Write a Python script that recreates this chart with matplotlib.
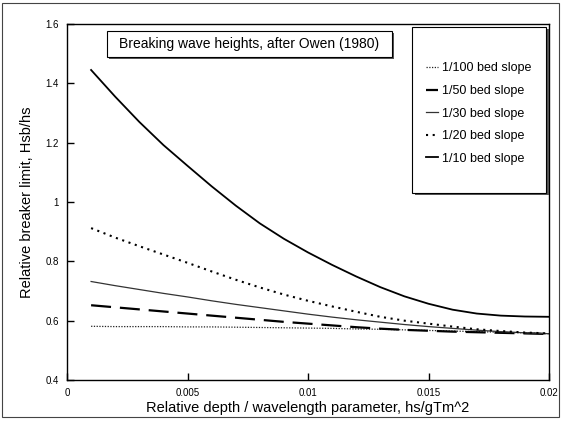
import matplotlib
matplotlib.use("Agg")
import matplotlib.pyplot as plt
from matplotlib.patches import Rectangle

# ---- data ----
x = [0.001, 0.002, 0.003, 0.004, 0.005, 0.006, 0.007, 0.008, 0.009, 0.010,
     0.011, 0.012, 0.013, 0.014, 0.015, 0.016, 0.017, 0.018, 0.019, 0.020]
slope_100 = [0.581, 0.580, 0.580, 0.580, 0.579, 0.579, 0.578, 0.577, 0.576, 0.575,
             0.574, 0.572, 0.571, 0.569, 0.567, 0.565, 0.563, 0.561, 0.559, 0.556]
slope_50 = [0.652, 0.645, 0.638, 0.631, 0.624, 0.617, 0.610, 0.603, 0.596, 0.590,
            0.584, 0.578, 0.573, 0.569, 0.566, 0.563, 0.561, 0.559, 0.557, 0.555]
slope_30 = [0.732, 0.718, 0.705, 0.692, 0.680, 0.667, 0.655, 0.644, 0.633, 0.622,
            0.612, 0.603, 0.595, 0.587, 0.580, 0.574, 0.568, 0.563, 0.559, 0.556]
slope_20 = [0.912, 0.880, 0.851, 0.823, 0.795, 0.766, 0.738, 0.712, 0.688, 0.667,
            0.648, 0.630, 0.613, 0.600, 0.590, 0.580, 0.571, 0.565, 0.560, 0.557]
slope_10 = [1.445, 1.355, 1.270, 1.192, 1.122, 1.053, 0.988, 0.928, 0.876, 0.830,
            0.788, 0.749, 0.713, 0.682, 0.657, 0.637, 0.624, 0.617, 0.614, 0.613]
labels = ["1/100 bed slope", "1/50 bed slope", "1/30 bed slope",
          "1/20 bed slope", "1/10 bed slope"]
xticks = [0, 0.005, 0.01, 0.015, 0.02]
xticklabels = ["0", "0.005", "0.01", "0.015", "0.02"]
yticks = [0.4, 0.6, 0.8, 1.0, 1.2, 1.4, 1.6]
yticklabels = ["0.4", "0.6", "0.8", "1", "1.2", "1.4", "1.6"]
title = "Breaking wave heights, after Owen (1980)"
xlabel = "Relative depth / wavelength parameter, hs/gTm^2"
ylabel = "Relative breaker limit, Hsb/hs"

plt.rcParams['font.family'] = ['Liberation Sans', 'DejaVu Sans']

W, H = 562, 421
fig = plt.figure(figsize=(W / 100, H / 100), dpi=100)
ax = fig.add_axes([67 / W, 1 - 380 / H, (549 - 67) / W, (380 - 24) / H])

ax.plot(x, slope_100, color='#222222', lw=0.9, ls=(0, (1, 1.2)), label=labels[0])
ax.plot(x, slope_50, color='black', lw=1.6, ls=(0, (9, 4)), label=labels[1])
ax.plot(x, slope_30, color='#333333', lw=0.9, ls='-', label=labels[2])
ax.plot(x, slope_20, color='black', lw=1.5, ls=(0, (1, 2.2)), label=labels[3])
ax.plot(x, slope_10, color='black', lw=1.3, ls='-', label=labels[4])

ax.set_xlim(0, 0.02)
ax.set_ylim(0.4, 1.6)
ax.set_xticks(xticks)
ax.set_xticklabels(xticklabels)
ax.set_yticks(yticks)
ax.set_yticklabels(yticklabels)
ax.tick_params(direction='in', length=5, width=1, labelsize=7, pad=6)
for s in ax.spines.values():
    s.set_linewidth(1.0)
ax.set_xlabel(xlabel, fontsize=10.5, labelpad=2)
ax.set_ylabel(ylabel, fontsize=10.5, labelpad=8)

# title box with shadow
tb = (107 / W, 1 - 57 / H, 285 / W, 26 / H)
fig.patches.append(Rectangle((tb[0] + 2 / W, tb[1] - 2 / H), tb[2], tb[3],
                             transform=fig.transFigure, facecolor='#555555',
                             edgecolor='none', zorder=5))
fig.patches.append(Rectangle((tb[0], tb[1]), tb[2], tb[3], transform=fig.transFigure,
                             facecolor='white', edgecolor='black', lw=0.8, zorder=6))
fig.text(tb[0] + tb[2] / 2, tb[1] + tb[3] / 2, title, ha='center', va='center',
         fontsize=10, zorder=7)

# legend box with shadow
lb = (412 / W, 1 - 193 / H, 134 / W, 166 / H)
fig.patches.append(Rectangle((lb[0] + 3 / W, lb[1] - 2 / H), lb[2], lb[3],
                             transform=fig.transFigure, facecolor='#555555',
                             edgecolor='none', zorder=5))
fig.patches.append(Rectangle((lb[0], lb[1]), lb[2], lb[3], transform=fig.transFigure,
                             facecolor='white', edgecolor='black', lw=0.8, zorder=6))
leg = ax.legend(frameon=False, loc='upper left',
                bbox_to_anchor=(420 / W, 1 - 56 / H), bbox_transform=fig.transFigure,
                fontsize=9, handlelength=0.9, handletextpad=0.4, labelspacing=0.85,
                borderpad=0)
leg.set_zorder(8)
leg.remove()
fig.add_artist(leg)

# scanned page border
fig.patches.append(Rectangle((2 / W, 4 / H), (W - 5) / W, (H - 7) / H,
                             transform=fig.transFigure, facecolor='none',
                             edgecolor='#444444', lw=0.8, zorder=1))

fig.savefig("out.png", dpi=100)
